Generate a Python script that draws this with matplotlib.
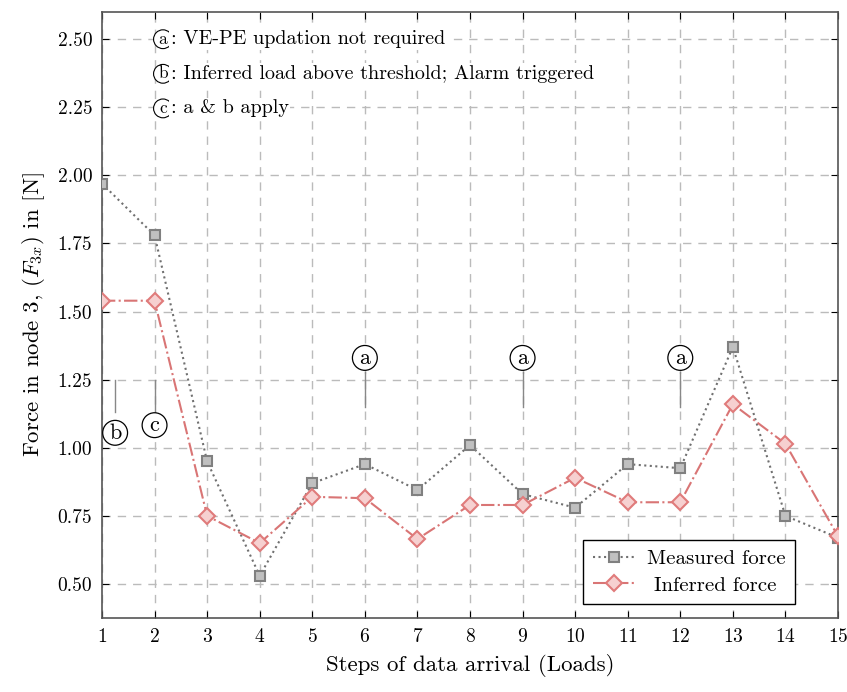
import numpy as np
import matplotlib
matplotlib.use('Agg')
import matplotlib.pyplot as plt

plt.rcParams['font.family'] = 'serif'
plt.rcParams['font.serif'] = ['cmr10', 'DejaVu Serif']
plt.rcParams['mathtext.fontset'] = 'cm'
plt.rcParams['axes.formatter.use_mathtext'] = True

# Data
steps = np.arange(1, 16)
measured = [1.97, 1.78, 0.95, 0.53, 0.87, 0.94, 0.845, 1.01, 0.83, 0.78, 0.94, 0.925, 1.37, 0.75, 0.67]
inferred = [1.54, 1.54, 0.75, 0.65, 0.82, 0.815, 0.665, 0.79, 0.79, 0.89, 0.80, 0.80, 1.16, 1.015, 0.675]
yticks = [0.50, 0.75, 1.00, 1.25, 1.50, 1.75, 2.00, 2.25, 2.50]

# marks: (x, y of letter, letter, line top, line bottom)
marks = [(6, 1.33, 'a', 1.28, 1.15), (9, 1.33, 'a', 1.28, 1.15), (12, 1.33, 'a', 1.28, 1.15),
         (1.25, 1.055, 'b', 1.25, 1.13), (2, 1.083, 'c', 1.25, 1.13)]
notes = ['a', 'b', 'c']
note_text = [': VE-PE updation not required', ': Inferred load above threshold; Alarm triggered', ': a & b apply']

fig = plt.figure(figsize=(8.47, 6.92), dpi=100)
ax = fig.add_axes([0.1204, 0.1069, 0.869, 0.8758])

ax.plot(steps, measured, ':', color='#707070', lw=1.5, marker='s', ms=7,
        mfc='#c0c0c0', mec='#808080', mew=1.5, label='Measured force', zorder=3)
ax.plot(steps, inferred, '-.', color='#d97575', lw=1.5, marker='D', ms=8,
        mfc='#f6d0d0', mec='#e07b7b', mew=1.5, label=' Inferred force', zorder=3)

circ = dict(boxstyle='circle,pad=0.12', fc='white', ec='black', lw=0.9)
for x, y, letter, top, bot in marks:
    ax.plot([x, x], [bot, top], color='#888888', lw=1)
    ax.text(x, y, letter, ha='center', va='center', fontsize=16, bbox=circ, zorder=4)

small = dict(boxstyle='circle,pad=0.1', fc='white', ec='black', lw=0.8)
for i, (n, t) in enumerate(zip(notes, note_text)):
    yy = 2.50 - i * 0.127
    ax.text(2.16, yy, n, ha='center', va='center', fontsize=12.5, bbox=small)
    ax.text(2.31, yy, t, ha='left', va='center', fontsize=14.5,
            bbox=dict(fc='white', ec='none', pad=1))

ax.set_xlim(1, 15)
ax.set_ylim(0.375, 2.6)
ax.set_xticks(steps)
ax.set_yticks(yticks)
ax.set_yticklabels(['%.2f' % v for v in yticks])
ax.tick_params(direction='in', top=True, right=True, labelsize=14, length=5, pad=7)
ax.grid(True, ls=(0, (6, 5)), color='#bbbbbb', lw=1)
ax.set_axisbelow(True)
for s in ax.spines.values():
    s.set_color('#555555')
    s.set_linewidth(1.2)

ax.set_xlabel('Steps of data arrival (Loads)', fontsize=16.5, labelpad=6)
ax.set_ylabel(r'Force in node 3, $(F_{3x})$ in [N]', fontsize=16.5, labelpad=8)

leg = ax.legend(loc='lower right', bbox_to_anchor=(0.9416, 0.023), fontsize=15,
                fancybox=False, edgecolor='black', framealpha=1, borderaxespad=0,
                handlelength=2.0, borderpad=0.45, labelspacing=0.4, handletextpad=0.6)
leg.get_frame().set_linewidth(1)

fig.savefig('out.png', dpi=100)
